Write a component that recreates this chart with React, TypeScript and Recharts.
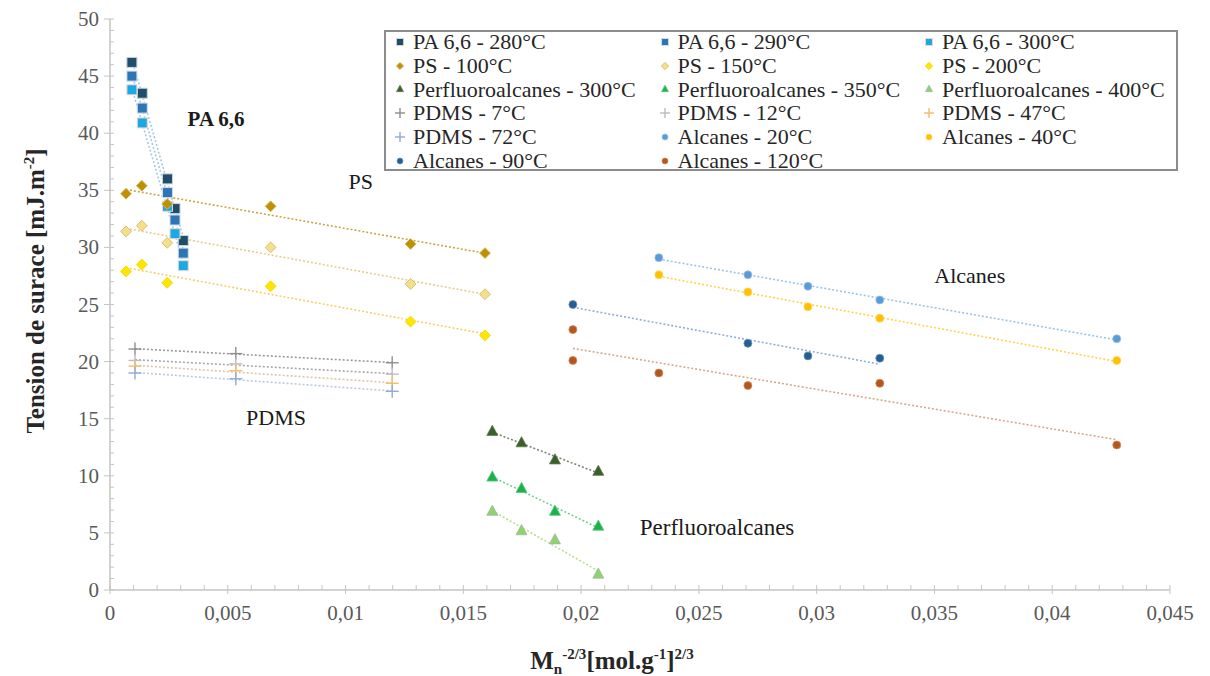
import React from 'react';
import { ScatterChart, Scatter, XAxis, YAxis, Legend, ReferenceDot } from 'recharts';

// ---------- data ----------
const paX = [0.00093, 0.00137, 0.00244, 0.00276, 0.00311];
const pa280Y = [46.2, 43.5, 36.0, 33.4, 30.6];
const pa290Y = [45.0, 42.2, 34.8, 32.4, 29.5];
const pa300Y = [43.8, 40.9, 33.6, 31.2, 28.4];

const psX = [0.00068, 0.00135, 0.00243, 0.00682, 0.01276, 0.01592];
const ps100Y = [34.7, 35.4, 33.8, 33.6, 30.3, 29.5];
const ps150Y = [31.4, 31.9, 30.4, 30.0, 26.8, 25.9];
const ps200Y = [27.9, 28.5, 26.9, 26.6, 23.5, 22.3];

const pfX = [0.01623, 0.01747, 0.01889, 0.02073];
const pf300Y = [13.9, 12.9, 11.4, 10.4];
const pf350Y = [9.9, 8.9, 6.9, 5.6];
const pf400Y = [6.9, 5.2, 4.4, 1.4];

const pdmsX = [0.00106, 0.00534, 0.01198];
const pdms7Y = [21.1, 20.7, 19.9];
const pdms12Y = [20.1, 19.8, 18.9];
const pdms47Y = [19.6, 19.2, 18.1];
const pdms72Y = [19.0, 18.5, 17.4];

const alcX = [0.0233, 0.02708, 0.02963, 0.03268, 0.04274];
const alc20Y = [29.1, 27.6, 26.6, 25.4, 22.0];
const alc40Y = [27.6, 26.1, 24.8, 23.8, 20.1];
const alc90X = [0.01965, 0.02708, 0.02963, 0.03268];
const alc90Y = [25.0, 21.6, 20.5, 20.3];
const alc120X = [0.01965, 0.01965, 0.0233, 0.02708, 0.03268, 0.04274];
const alc120Y = [22.8, 20.1, 19.0, 17.9, 18.1, 12.7];

const xTickLabels = ['0', '0,005', '0,01', '0,015', '0,02', '0,025', '0,03', '0,035', '0,04', '0,045'];
const yTickLabels = ['0', '5', '10', '15', '20', '25', '30', '35', '40', '45', '50'];

const annotations = [
  { text: 'PA 6,6', x: 0.0045, y: 41.3, bold: true, size: 21 },
  { text: 'PS', x: 0.01065, y: 35.8, bold: false, size: 22 },
  { text: 'PDMS', x: 0.00705, y: 15.1, bold: false, size: 22 },
  { text: 'Perfluoroalcanes', x: 0.02577, y: 5.5, bold: false, size: 23 },
  { text: 'Alcanes', x: 0.0365, y: 27.6, bold: false, size: 22 },
];

type Kind = 'square' | 'diamond' | 'triangle' | 'plus' | 'circle';
interface SeriesDef { name: string; xs: number[]; ys: number[]; kind: Kind; fill: string; stroke: string; trend: string; }

const series: SeriesDef[] = [
  { name: 'PA 6,6 - 280°C', xs: paX, ys: pa280Y, kind: 'square', fill: '#1F4E6A', stroke: '#C8D3DC', trend: '#A7C7E4' },
  { name: 'PA 6,6 - 290°C', xs: paX, ys: pa290Y, kind: 'square', fill: '#2E75B6', stroke: '#D0DCE8', trend: '#A7C7E4' },
  { name: 'PA 6,6 - 300°C', xs: paX, ys: pa300Y, kind: 'square', fill: '#19A9E6', stroke: '#F0D8C8', trend: '#A7C7E4' },
  { name: 'PS - 100°C', xs: psX, ys: ps100Y, kind: 'diamond', fill: '#BF9000', stroke: '#D6B560', trend: '#C9A640' },
  { name: 'PS - 150°C', xs: psX, ys: ps150Y, kind: 'diamond', fill: '#F4DF8C', stroke: '#D9C170', trend: '#E6CC8E' },
  { name: 'PS - 200°C', xs: psX, ys: ps200Y, kind: 'diamond', fill: '#FFE600', stroke: '#F6D800', trend: '#F7CF6A' },
  { name: 'Perfluoroalcanes - 300°C', xs: pfX, ys: pf300Y, kind: 'triangle', fill: '#3A5F2A', stroke: '#5E7A50', trend: '#7A8572' },
  { name: 'Perfluoroalcanes - 350°C', xs: pfX, ys: pf350Y, kind: 'triangle', fill: '#1BB24B', stroke: '#55C878', trend: '#72CF90' },
  { name: 'Perfluoroalcanes - 400°C', xs: pfX, ys: pf400Y, kind: 'triangle', fill: '#8FD46A', stroke: '#9FB6A8', trend: '#B8E08F' },
  { name: 'PDMS - 7°C', xs: pdmsX, ys: pdms7Y, kind: 'plus', fill: '#8E8E8E', stroke: '#8E8E8E', trend: '#9A9A9A' },
  { name: 'PDMS - 12°C', xs: pdmsX, ys: pdms12Y, kind: 'plus', fill: '#BDBDBD', stroke: '#BDBDBD', trend: '#A8A8A8' },
  { name: 'PDMS - 47°C', xs: pdmsX, ys: pdms47Y, kind: 'plus', fill: '#F2BE6A', stroke: '#F2BE6A', trend: '#D9C7A8' },
  { name: 'PDMS - 72°C', xs: pdmsX, ys: pdms72Y, kind: 'plus', fill: '#8FAADC', stroke: '#8FAADC', trend: '#BCC8DA' },
  { name: 'Alcanes - 20°C', xs: alcX, ys: alc20Y, kind: 'circle', fill: '#5B9BD5', stroke: '#9CC3E8', trend: '#9DC3E6' },
  { name: 'Alcanes - 40°C', xs: alcX, ys: alc40Y, kind: 'circle', fill: '#FFC000', stroke: '#FFD660', trend: '#FFD34D' },
  { name: 'Alcanes - 90°C', xs: alc90X, ys: alc90Y, kind: 'circle', fill: '#255E91', stroke: '#6F95BA', trend: '#8FAFD0' },
  { name: 'Alcanes - 120°C', xs: alc120X, ys: alc120Y, kind: 'circle', fill: '#B5561C', stroke: '#CF8A5E', trend: '#D9A788' },
];

// linear least-squares trendline spanning the series' x range (Excel-style)
function trendline(xs: number[], ys: number[]) {
  const n = xs.length;
  const mx = xs.reduce((a, b) => a + b, 0) / n;
  const my = ys.reduce((a, b) => a + b, 0) / n;
  let sxy = 0, sxx = 0;
  for (let i = 0; i < n; i++) { sxy += (xs[i] - mx) * (ys[i] - my); sxx += (xs[i] - mx) ** 2; }
  const slope = sxy / sxx;
  const x0 = Math.min(...xs), x1 = Math.max(...xs);
  return [{ x: x0, y: my + slope * (x0 - mx) }, { x: x1, y: my + slope * (x1 - mx) }];
}

const toPoints = (xs: number[], ys: number[]) => xs.map((x, i) => ({ x, y: ys[i] }));

const xTicks = Array.from({ length: 46 }, (_, i) => Number((i * 0.001).toFixed(3)));
const yTicks = Array.from({ length: 51 }, (_, i) => i);

const FONT = '"Liberation Serif", "Times New Roman", serif';
const AXIS = '#C4C4C4';

function Marker({ kind, cx, cy, size, fill, stroke }: { kind: Kind; cx: number; cy: number; size: number; fill: string; stroke: string }) {
  const h = size / 2;
  switch (kind) {
    case 'square':
      return <rect x={cx - h} y={cy - h} width={size} height={size} fill={fill} stroke={stroke} strokeWidth={1} />;
    case 'diamond': {
      const d = h * 1.2;
      return <polygon points={`${cx},${cy - d} ${cx + d},${cy} ${cx},${cy + d} ${cx - d},${cy}`} fill={fill} stroke={stroke} strokeWidth={1} />;
    }
    case 'triangle':
      return <polygon points={`${cx},${cy - h * 1.1} ${cx + h},${cy + h * 0.75} ${cx - h},${cy + h * 0.75}`} fill={fill} stroke={stroke} strokeWidth={0.8} />;
    case 'plus':
      return (
        <g stroke={fill} strokeWidth={1.4}>
          <line x1={cx - h} x2={cx + h} y1={cy} y2={cy} />
          <line x1={cx} x2={cx} y1={cy - h} y2={cy + h} />
        </g>
      );
    default:
      return <circle cx={cx} cy={cy} r={h} fill={fill} stroke={stroke} strokeWidth={0.8} />;
  }
}

const plotSize: Record<Kind, number> = { square: 10, diamond: 9, triangle: 11, plus: 13, circle: 8 };
const legendSize: Record<Kind, number> = { square: 7, diamond: 6, triangle: 7, plus: 10, circle: 6 };

const XTick = (props: any) => {
  const { x, y, payload } = props;
  const idx = Math.round(payload.value / 0.001);
  const major = idx % 5 === 0;
  return (
    <g>
      <line x1={x} x2={x} y1={y - 5} y2={major ? y + 4 : y} stroke={AXIS} strokeWidth={1} />
      {major && (
        <text x={x} y={y + 30} textAnchor="middle" fontFamily={FONT} fontSize={21} fill="#595959">
          {xTickLabels[idx / 5]}
        </text>
      )}
    </g>
  );
};

const YTick = (props: any) => {
  const { x, y, payload } = props;
  const v = Math.round(payload.value);
  const major = v % 5 === 0;
  return (
    <g>
      <line x1={major ? x - 6 : x} x2={x + 4} y1={y} y2={y} stroke={AXIS} strokeWidth={1} />
      {major && (
        <text x={x - 11} y={y + 7} textAnchor="end" fontFamily={FONT} fontSize={21} fill="#595959">
          {yTickLabels[v / 5]}
        </text>
      )}
    </g>
  );
};

const XTitle = (props: any) => {
  const vb = props.viewBox || { x: 110, y: 590, width: 1060 };
  const cx = vb.x + vb.width / 2 - 28;
  return (
    <text x={cx} y={669} textAnchor="middle" fontFamily={FONT} fontWeight="bold" fontSize={25} fill="#262626">
      M
      <tspan fontSize={15} dy={5}>n</tspan>
      <tspan fontSize={15} dy={-15}>-2/3</tspan>
      <tspan fontSize={25} dy={10}>[mol.g</tspan>
      <tspan fontSize={15} dy={-10}>-1</tspan>
      <tspan fontSize={25} dy={10}>]</tspan>
      <tspan fontSize={15} dy={-10}>2/3</tspan>
    </text>
  );
};

const YTitle = () => (
  <text x={0} y={0} transform="translate(44,291) rotate(-90)" textAnchor="middle" fontFamily={FONT} fontWeight="bold" fontSize={25} fill="#262626">
    Tension de surace [mJ.m
    <tspan fontSize={15} dy={-10}>-2</tspan>
    <tspan fontSize={25} dy={10}>]</tspan>
  </text>
);

const LegendBox = () => (
  <div
    style={{
      width: 794, height: 141, boxSizing: 'border-box', border: '2px solid #8C8C8C', background: '#fff',
      position: 'relative', fontFamily: FONT, fontSize: 22, color: '#262626',
    }}
  >
    {series.map((s, i) => {
      const col = i % 3;
      const row = Math.floor(i / 3);
      return (
        <div key={s.name} style={{ position: 'absolute', left: 6 + col * 264.5, top: -2 + row * 23.8, height: 23.8, display: 'flex', alignItems: 'center', whiteSpace: 'nowrap', lineHeight: '23.8px' }}>
          <svg width={16} height={16} style={{ display: 'block' }}>
            <Marker kind={s.kind} cx={8} cy={8} size={legendSize[s.kind]} fill={s.fill} stroke={s.kind === 'plus' ? s.fill : s.stroke} />
          </svg>
          <span style={{ marginLeft: 5 }}>{s.name}</span>
        </div>
      );
    })}
  </div>
);

export default function App() {
  return (
    <div style={{ position: 'absolute', left: 0, top: 0, width: 1210, height: 676, background: '#fff' }}>
      <ScatterChart width={1210} height={676} margin={{ top: 19, right: 40, bottom: 0, left: 0 }}>
        <XAxis
          type="number" dataKey="x" domain={[0, 0.045]} ticks={xTicks} interval={0} allowDataOverflow
          height={86} tickSize={0} tickMargin={0} tickLine={false} tick={<XTick />}
          axisLine={{ stroke: AXIS, strokeWidth: 1.5 }} label={<XTitle />}
        />
        <YAxis
          type="number" dataKey="y" domain={[0, 50]} ticks={yTicks} interval={0} allowDataOverflow
          width={110} tickSize={0} tickMargin={0} tickLine={false} tick={<YTick />}
          axisLine={{ stroke: AXIS, strokeWidth: 1.5 }} label={<YTitle />}
        />
        {series.map((s) => (
          <Scatter
            key={'t-' + s.name}
            data={trendline(s.xs, s.ys)}
            line={{ stroke: s.trend, strokeWidth: 1.6, strokeDasharray: '2 2' }}
            shape={() => <g />}
            legendType="none"
            isAnimationActive={false}
          />
        ))}
        {series.map((s) => (
          <Scatter
            key={s.name}
            name={s.name}
            data={toPoints(s.xs, s.ys)}
            isAnimationActive={false}
            shape={(p: any) => <Marker kind={s.kind} cx={p.cx} cy={p.cy} size={plotSize[s.kind]} fill={s.fill} stroke={s.stroke} />}
          />
        ))}
        {annotations.map((a) => (
          <ReferenceDot
            key={a.text} x={a.x} y={a.y} r={0} fill="none" stroke="none" ifOverflow="visible"
            label={{ value: a.text, position: 'center', fontFamily: FONT, fontSize: a.size, fontWeight: a.bold ? 'bold' : 'normal', fill: '#1A1A1A' }}
          />
        ))}
        <Legend
          verticalAlign="middle" align="center" layout="horizontal"
          wrapperStyle={{ position: 'absolute', left: 384, top: 30, width: 794, height: 141 }}
          content={() => <LegendBox />}
        />
      </ScatterChart>
    </div>
  );
}
